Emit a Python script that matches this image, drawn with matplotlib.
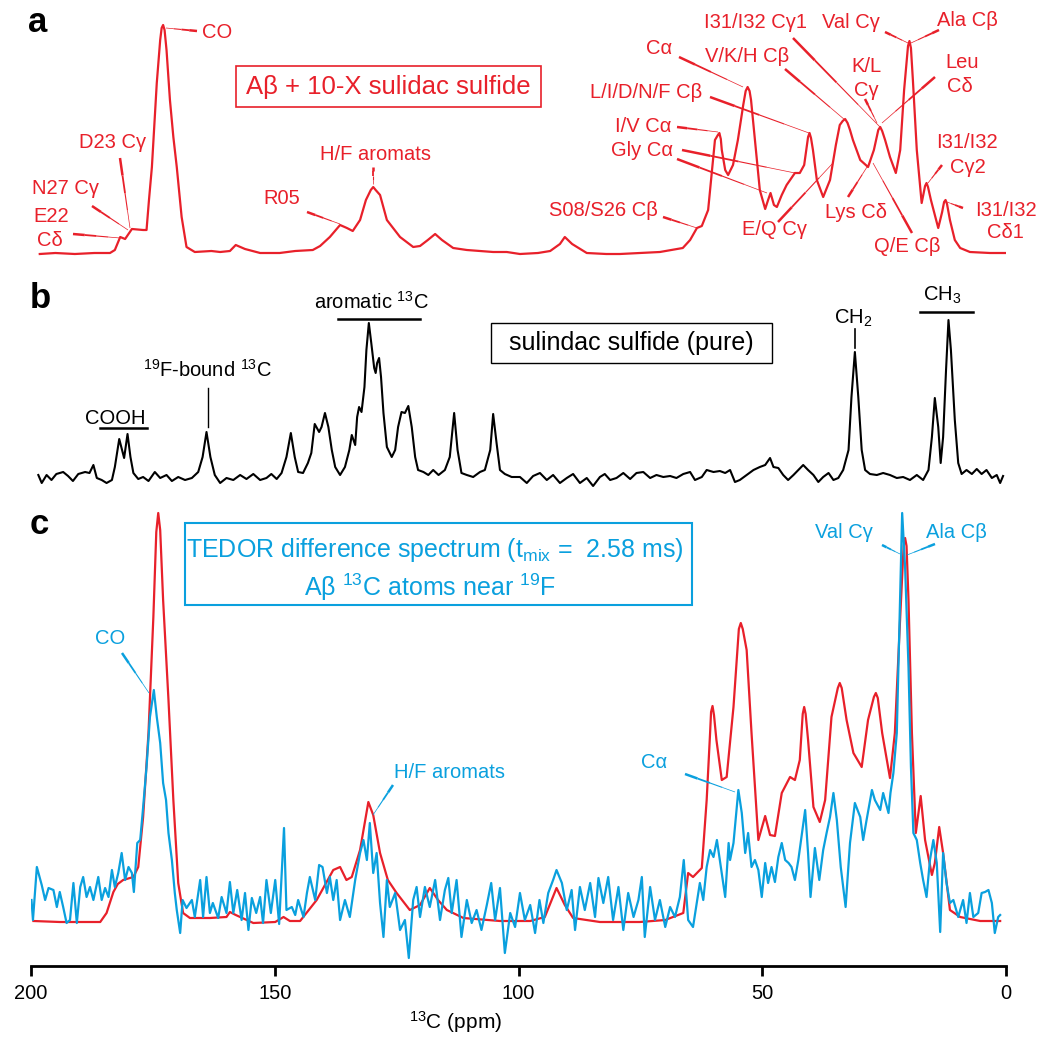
import matplotlib.pyplot as plt
from matplotlib.lines import Line2D
from matplotlib.patches import Rectangle

plt.rcParams['font.family'] = ['Liberation Sans', 'DejaVu Sans']
plt.rcParams['mathtext.fontset'] = 'custom'
plt.rcParams['mathtext.rm'] = 'Liberation Sans'
plt.rcParams['mathtext.it'] = 'Liberation Sans:italic'
plt.rcParams['mathtext.bf'] = 'Liberation Sans:bold'

RED = '#e8202a'
BLUE = '#0aa0de'

# (a) Abeta fibrils + 10x sulindac sulfide, 13C CP spectrum
a_ppm = [198.2, 195.0, 191.0, 187.0, 183.8, 182.8, 181.7, 180.7, 179.3, 177.0,
         176.3, 175.8, 175.2, 174.2, 173.5, 173.2, 172.9, 172.6, 172.2, 171.5,
         170.8, 170.1, 169.1, 168.1, 166.4, 163.0, 161.2, 159.2, 158.0, 156.1,
         153.0, 149.0, 145.8, 142.2, 140.7, 138.7, 136.6, 135.2, 134.0, 132.5,
         131.3, 130.3, 129.8, 129.3, 128.4, 127.0, 124.3, 121.6, 120.2, 118.6,
         117.1, 115.7, 113.4, 110.6, 105.2, 102.4, 99.7, 96.0, 93.5, 91.5,
         90.5, 89.0, 86.0, 82.0, 79.2, 75.0, 71.0, 66.3, 64.8, 63.4,
         62.4, 61.1, 60.5, 59.7, 59.1, 58.8, 58.5, 58.3, 57.6, 57.0,
         56.0, 55.0, 53.9, 53.4, 53.0, 52.6, 52.3, 51.3, 50.5, 49.4,
         48.8, 48.3, 47.6, 47.0, 46.0, 45.0, 43.3, 42.3, 41.4, 40.6,
         40.3, 40.0, 39.6, 38.8, 37.5, 36.1, 34.9, 34.1, 33.5, 33.0,
         32.5, 32.0, 31.4, 29.9, 28.3, 27.1, 26.2, 25.8, 25.4, 24.8,
         23.8, 22.6, 21.7, 20.9, 20.1, 19.8, 19.5, 19.1, 18.3, 17.3,
         16.6, 16.3, 16.0, 15.4, 13.9, 13.1, 12.7, 12.4, 12.1, 11.5,
         10.5, 9.4, 7.4, 3.3, 0.0]
a_int = [0, 1, 0, 1, 1, 4, 17, 15, 25, 24,
         24, 54, 87, 171, 214, 226, 229, 224, 204, 154,
         117, 87, 37, 7, 2, 3, 2, 3, 9, 5,
         1, 1, 3, 4, 8, 17, 29, 26, 23, 34,
         54, 64, 67, 64, 59, 34, 17, 7, 8, 14,
         20, 14, 6, 4, 2, 2, 0, 1, 3, 10,
         17, 10, 1, 0, 0, 1, 2, 6, 14, 26,
         28, 44, 74, 114, 119, 121, 115, 104, 84, 79,
         89, 114, 149, 163, 167, 163, 154, 104, 64, 45,
         54, 61, 49, 47, 59, 69, 81, 81, 89, 117,
         121, 116, 104, 74, 57, 74, 109, 129, 133, 135,
         131, 124, 114, 94, 87, 104, 124, 127, 123, 114,
         97, 81, 104, 164, 208, 213, 206, 174, 104, 51,
         68, 71, 67, 54, 26, 42, 52, 54, 50, 34,
         14, 6, 2, 1, 1]

# (b) pure sulindac sulfide
b_ppm = [198.5, 197.8, 196.8, 195.8, 194.8, 193.4, 192.4, 191.4, 190.3, 188.9,
         188.0, 187.2, 186.5, 185.5, 184.5, 183.4, 182.8, 181.9, 180.9, 180.2,
         179.6, 179.0, 178.0, 177.0, 175.9, 174.6, 173.5, 172.2, 171.1, 169.8,
         168.4, 167.0, 165.7, 164.8, 164.0, 163.2, 162.3, 161.2, 159.9, 158.5,
         157.1, 155.8, 154.4, 153.0, 151.7, 150.7, 149.6, 148.6, 147.6, 146.7,
         145.9, 145.2, 144.2, 143.2, 142.5, 141.8, 140.9, 140.4, 139.7, 139.0,
         138.3, 137.6, 136.6, 135.6, 134.7, 134.2, 133.5, 133.1, 132.7, 132.2,
         131.6, 131.2, 130.7, 130.2, 129.6, 129.3, 129.0, 128.6, 128.2, 127.7,
         127.0, 126.0, 125.3, 124.7, 124.0, 123.3, 122.6, 121.9, 121.2, 120.6,
         119.5, 118.5, 117.5, 116.4, 115.1, 114.1, 113.2, 112.5, 111.7, 110.6,
         109.3, 107.9, 106.9, 105.8, 105.2, 104.5, 103.8, 102.8, 101.4, 99.7,
         98.3, 97.0, 95.6, 94.2, 92.9, 91.5, 90.1, 88.8, 87.4, 86.0,
         84.7, 83.3, 82.3, 81.2, 79.9, 78.5, 77.1, 75.8, 74.4, 73.0,
         71.7, 70.3, 68.9, 67.6, 66.2, 64.8, 63.8, 62.4, 61.4, 60.0,
         58.7, 57.6, 56.6, 55.6, 54.6, 53.2, 51.8, 50.5, 49.4, 48.4,
         47.7, 46.7, 45.7, 44.7, 43.6, 42.6, 41.6, 40.6, 39.5, 38.5,
         37.5, 36.4, 35.4, 34.4, 33.4, 32.3, 31.7, 31.0, 30.3, 29.6,
         28.9, 27.9, 26.5, 25.2, 23.8, 22.4, 21.1, 19.7, 18.3, 17.0,
         15.9, 15.2, 14.6, 13.9, 13.4, 12.9, 12.3, 11.8, 11.3, 11.0,
         10.5, 9.8, 9.1, 8.1, 7.0, 6.0, 5.0, 4.0, 2.9, 1.9,
         1.2, 0.6]
b_int = [5, -3, 5, 0, 6, 8, 4, -1, 6, 8,
         7, 15, 2, 0, -3, 0, 13, 41, 22, 46,
         23, 7, 1, 3, -1, 8, 2, 5, -1, 3,
         0, 2, 8, 23, 48, 23, 5, -3, 2, 0,
         5, 1, 6, 0, 2, 6, 1, 7, 23, 47,
         23, 8, 7, 17, 27, 56, 48, 53, 67, 53,
         30, 13, 5, 13, 30, 45, 35, 63, 73, 68,
         93, 130, 157, 137, 112, 107, 117, 122, 103, 67,
         33, 23, 30, 53, 68, 67, 74, 53, 23, 10,
         8, 5, 10, 5, 10, 23, 67, 30, 7, 5,
         3, 8, 10, 30, 66, 37, 10, 6, 3, 3,
         -3, 4, 7, 0, 5, -3, 2, 6, -3, 2,
         -6, 3, 6, 0, 2, 7, 1, 7, 8, 2,
         5, 3, 4, 2, 6, 8, 0, 3, 10, 8,
         9, 7, 10, -2, 0, 5, 10, 13, 15, 22,
         13, 12, 5, 0, 5, 10, 15, 10, 5, -2,
         3, 7, 0, 2, 10, 30, 83, 128, 83, 30,
         10, 6, 5, 7, 5, 2, 3, 0, 5, 0,
         10, 43, 82, 53, 17, 43, 110, 160, 130, 103,
         60, 17, 6, 10, 6, 11, 6, 10, 2, 5,
         -3, 4]

# (c) reference spectrum (red) and TEDOR difference spectrum (blue)
c_ref_ppm = [199.5, 194.1, 185.8, 184.5, 183.1, 182.2, 181.1, 179.0, 178.0, 177.0,
             175.9, 174.9, 174.3, 173.9, 173.5, 172.9, 171.8, 170.8, 169.8, 168.8,
             167.4, 163.3, 159.9, 159.2, 158.0, 154.4, 149.9, 148.2, 146.9, 144.8,
             141.4, 138.0, 136.6, 135.3, 134.2, 132.5, 130.8, 129.8, 128.4, 126.8,
             125.0, 122.3, 120.2, 118.2, 116.5, 114.7, 111.3, 103.8, 97.6, 94.6,
             92.2, 90.5, 88.8, 83.3, 75.1, 69.9, 66.2, 65.2, 64.2, 62.4,
             61.4, 60.7, 60.5, 60.2, 59.9, 59.4, 58.3, 57.3, 55.9, 54.8,
             54.4, 54.0, 53.2, 52.2, 50.8, 49.4, 48.4, 47.4, 46.0, 44.3,
             43.3, 42.3, 41.7, 41.4, 41.1, 40.6, 39.5, 38.2, 37.1, 35.8,
             34.5, 34.1, 33.7, 32.7, 31.3, 29.6, 28.3, 27.1, 26.7, 26.3,
             25.4, 23.8, 22.8, 21.7, 21.0, 20.7, 20.4, 20.0, 19.3, 18.5,
             17.5, 16.6, 15.2, 14.6, 13.7, 12.9, 11.5, 9.4, 5.3, 1.2]
c_ref_int = [1, 0, 0, 9, 30, 38, 42, 45, 55, 105,
             189, 305, 390, 409, 392, 322, 222, 122, 39, 9,
             4, 4, 5, 10, 7, -1, 0, 5, 1, 1,
             22, 52, 55, 42, 45, 72, 120, 107, 69, 42,
             29, 12, 17, 34, 22, 12, 4, 1, 1, 5,
             34, 17, 4, 0, 0, 2, 9, 49, 45, 54,
             122, 189, 210, 216, 207, 182, 142, 145, 215, 293,
             299, 293, 272, 189, 82, 106, 87, 86, 129, 145,
             142, 162, 208, 215, 208, 182, 115, 100, 122, 205,
             234, 239, 234, 202, 169, 155, 202, 225, 229, 224,
             189, 144, 189, 305, 376, 384, 376, 322, 189, 89,
             126, 82, 47, 59, 95, 69, 12, 5, 1, 1]

c_tedor_ppm = [199.9, 199.6, 198.8, 197.8, 197.1, 196.4, 195.4, 194.7, 194.1, 193.4,
               192.7, 192.0, 191.3, 190.6, 189.9, 189.3, 188.6, 187.9, 187.2, 186.2,
               185.5, 184.8, 184.1, 183.4, 182.8, 182.1, 181.4, 180.7, 180.0, 179.3,
               178.9, 178.2, 177.6, 177.1, 176.3, 175.6, 174.8, 174.2, 173.5, 172.9,
               172.3, 171.8, 171.1, 170.5, 170.1, 169.4, 168.9, 168.1, 167.0, 166.4,
               165.3, 164.7, 164.0, 163.3, 162.7, 161.6, 160.9, 159.9, 159.2, 158.5,
               157.7, 156.8, 156.1, 155.4, 154.7, 153.8, 153.0, 152.4, 151.7, 150.8,
               149.9, 149.1, 148.1, 147.6, 146.5, 145.8, 145.2, 144.1, 143.4, 142.8,
               141.7, 140.9, 140.2, 139.3, 138.7, 138.0, 137.3, 136.6, 135.6, 134.6,
               133.5, 132.5, 131.8, 131.1, 130.5, 129.8, 129.1, 128.4, 127.7, 127.0,
               126.4, 125.3, 124.3, 123.3, 122.5, 121.6, 120.9, 120.2, 119.2, 118.2,
               117.1, 116.1, 115.1, 114.4, 113.7, 112.7, 111.7, 110.6, 109.6, 108.6,
               107.6, 106.5, 105.6, 104.8, 103.8, 102.8, 101.7, 100.7, 99.7, 98.7,
               97.6, 96.6, 95.7, 94.9, 93.9, 92.9, 92.2, 91.1, 90.1, 89.1,
               88.4, 87.4, 86.4, 85.3, 84.3, 83.6, 82.6, 81.6, 80.6, 79.5,
               78.5, 77.5, 76.4, 75.4, 74.7, 74.1, 73.0, 72.0, 71.0, 69.9,
               68.9, 67.9, 66.9, 66.1, 65.2, 64.2, 62.8, 62.1, 61.4, 60.7,
               60.0, 59.3, 58.7, 57.6, 56.9, 56.6, 55.9, 54.9, 54.2, 53.5,
               52.9, 52.2, 51.5, 50.8, 50.1, 49.4, 48.8, 48.1, 47.4, 46.7,
               46.0, 45.3, 44.6, 44.0, 43.3, 42.6, 41.2, 40.6, 40.1, 39.2,
               38.3, 37.5, 36.8, 36.1, 35.4, 34.7, 33.9, 32.9, 32.0, 31.0,
               29.9, 29.3, 28.6, 27.5, 26.9, 25.8, 25.2, 24.1, 23.7, 23.1,
               22.4, 21.9, 21.3, 20.7, 20.0, 19.5, 19.0, 18.3, 17.6, 17.0,
               16.3, 15.6, 14.9, 14.2, 13.5, 12.9, 12.2, 11.5, 10.8, 9.8,
               8.8, 8.1, 7.4, 6.7, 5.7, 5.0, 4.3, 3.6, 2.9, 2.3,
               1.6, 1.2]
c_tedor_int = [22, 2, 55, 37, 22, 34, 32, 15, 30, 15,
               -1, 2, 39, -1, 35, 45, 25, 35, 22, 45,
               22, 34, 25, 52, 35, 49, 69, 42, 55, 49,
               30, 79, 82, 109, 155, 205, 232, 205, 179, 139,
               122, 89, 62, 29, 12, -11, 22, 14, 22, 5,
               42, 5, 45, 9, 19, 4, 25, 9, 40, 9,
               32, 2, 29, -8, 24, 9, 25, -1, 42, 9,
               42, -2, 94, 12, 15, 7, 22, 5, 29, 45,
               22, 57, 55, 29, 45, 22, 42, 2, 22, 5,
               42, 69, 82, 62, 99, 49, 69, 19, -15, 42,
               15, 29, -8, 2, -36, 22, 35, 5, 35, 15,
               42, 2, 32, 44, 9, 42, -15, 22, -1, 12,
               -8, 17, 39, 2, 34, -31, 9, -5, 29, 2,
               17, -11, 22, -1, 29, 42, 52, 39, 12, 32,
               -8, 35, 12, 39, 5, 44, 19, 45, 2, 35,
               -8, 29, 5, 22, 45, -15, 35, 2, 22, -5,
               15, 5, 25, 62, 2, -5, 39, 22, 55, 72,
               65, 82, 62, 25, 79, 62, 79, 132, 109, 69,
               89, 55, 62, 52, 25, 59, 39, 55, 40, 65,
               79, 62, 59, 55, 42, 62, 112, 69, 25, 74,
               42, 72, 89, 105, 129, 102, 55, 15, 79, 119,
               105, 82, 102, 132, 122, 112, 129, 109, 129, 149,
               189, 289, 409, 355, 255, 155, 89, 82, 59, 42,
               25, 62, 82, 59, -10, 69, 39, 19, 22, 5,
               22, -1, 29, 5, 9, 29, 30, 32, 19, -11,
               5, 7]

W, H = 1042, 1037
fig = plt.figure(figsize=(W / 100, H / 100), dpi=100)


def panel(top, bottom, base):
    # x spans 200 -> 0 ppm across pixels 31 -> 1006
    ax = fig.add_axes([31 / W, 1 - bottom / H, 975 / W, (bottom - top) / H])
    ax.set_xlim(200, 0)
    ax.set_ylim(base - bottom, base - top)
    ax.patch.set_alpha(0)
    return ax


def text(x, y, s, color, size=14.5, **kw):
    fig.text(x / W, 1 - y / H, s, color=color, fontsize=size,
             ha='center', va='center', **kw)


def leader(x1, y1, x2, y2, color):
    # tapered pointer: thick at the label, thin at the peak
    widths = [1.8, 1.3, 0.8, 0.5]
    n = len(widths)
    for i, lw in enumerate(widths):
        xa = x1 + (x2 - x1) * i / n
        xb = x1 + (x2 - x1) * (i + 1) / n
        ya = y1 + (y2 - y1) * i / n
        yb = y1 + (y2 - y1) * (i + 1) / n
        fig.add_artist(Line2D([xa / W, xb / W], [1 - ya / H, 1 - yb / H],
                              transform=fig.transFigure, color=color, lw=lw,
                              solid_capstyle='butt'))


def rule(x1, y1, x2, y2, color='black', lw=1.8):
    fig.add_artist(Line2D([x1 / W, x2 / W], [1 - y1 / H, 1 - y2 / H],
                          transform=fig.transFigure, color=color, lw=lw))


def box(l, t, r, b, color, lw=1.2):
    fig.add_artist(Rectangle((l / W, 1 - b / H), (r - l) / W, (b - t) / H,
                             transform=fig.transFigure, fill=False,
                             ec=color, lw=lw))


# ---- panel a ----
ax_a = panel(0, 270, 254)
ax_a.axis('off')
ax_a.plot(a_ppm, a_int, color=RED, lw=1.6)

text(38, 22, 'a', 'black', size=25, fontweight='bold')
box(236, 66, 541, 107, RED)
text(388, 87, 'Aβ + 10-X sulidac sulfide', RED, size=18.5)

a_labels = [
    ('CO', 217, 33), ('D23 Cγ', 113, 143), ('N27 Cγ', 65, 188),
    ('E22', 51, 216), ('Cδ', 50, 240), ('R05', 282, 199),
    ('H/F aromats', 376, 154), ('I31/I32 Cγ1', 756, 23), ('Val Cγ', 851, 23),
    ('Ala Cβ', 967, 21), ('Cα', 659, 48), ('V/K/H Cβ', 747, 57),
    ('K/L', 866, 67), ('Cγ', 866, 91), ('Leu', 962, 63), ('Cδ', 960, 87),
    ('L/I/D/N/F Cβ', 646, 93), ('I/V Cα', 643, 126), ('Gly Cα', 642, 150),
    ('S08/S26 Cβ', 603, 210), ('E/Q Cγ', 775, 230), ('Lys Cδ', 856, 212),
    ('Q/E Cβ', 907, 247), ('I31/I32', 967, 143), ('Cγ2', 968, 167),
    ('I31/I32', 1006, 210), ('Cδ1', 1005, 233),
]
for s, x, y in a_labels:
    text(x, y, s, RED)

a_leaders = [
    (197, 31, 166, 28), (120, 158, 130, 228), (92, 206, 128, 230),
    (73, 234, 120, 238), (307, 212, 340, 224), (373, 167, 373, 184),
    (793, 38, 880, 127), (885, 32, 908, 43), (939, 30, 911, 43),
    (679, 57, 743, 87), (785, 69, 845, 120), (865, 99, 877, 123),
    (935, 77, 882, 123), (710, 97, 809, 133), (677, 127, 718, 132),
    (682, 150, 795, 173), (677, 159, 767, 193), (663, 217, 697, 228),
    (778, 222, 833, 163), (848, 197, 867, 167), (912, 233, 873, 163),
    (942, 165, 928, 183), (963, 208, 947, 202),
]
for seg in a_leaders:
    leader(*seg, RED)

# ---- panel b ----
ax_b = panel(280, 500, 480)
ax_b.axis('off')
ax_b.plot(b_ppm, b_int, color='black', lw=1.5)

text(40, 298, 'b', 'black', size=25, fontweight='bold')
box(491, 323, 772, 363, 'black', lw=1.0)
text(631, 343, 'sulindac sulfide (pure)', 'black', size=18)
text(115, 418, 'COOH', 'black')
rule(100, 428, 147, 428)
text(208, 370, r'$^{\rm 19}$F-bound $^{\rm 13}$C', 'black')
rule(208, 388, 208, 427, lw=1.0)
text(371, 302, r'aromatic $^{\rm 13}$C', 'black')
rule(338, 319, 420, 319)
text(853, 318, r'CH$_{\rm 2}$', 'black')
rule(855, 329, 855, 348, lw=1.2)
text(942, 295, r'CH$_{\rm 3}$', 'black')
rule(920, 312, 973, 312)

# ---- panel c ----
ax_c = panel(500, 966, 922)
ax_c.plot(c_ref_ppm, c_ref_int, color=RED, lw=1.6)
ax_c.plot(c_tedor_ppm, c_tedor_int, color=BLUE, lw=1.6)
for side in ('left', 'right', 'top'):
    ax_c.spines[side].set_visible(False)
ax_c.spines['bottom'].set_linewidth(2)
ax_c.set_yticks([])
ax_c.set_xticks([200, 150, 100, 50, 0])
ax_c.tick_params(axis='x', length=7, width=2, labelsize=14.5, pad=6)

text(39, 525, 'c', 'black', size=25, fontweight='bold')
text(456, 1022, r'$^{\rm 13}$C (ppm)', 'black', size=15)

box(185, 523, 692, 605, BLUE, lw=1.5)
text(435, 550, r'TEDOR difference spectrum (t$_{\rm mix}$ =  2.58 ms)', BLUE, size=18)
text(430, 587, r'Aβ $^{\rm 13}$C atoms near $^{\rm 19}$F', BLUE, size=18)

c_labels = [
    ('CO', 110, 638), ('H/F aromats', 449, 772), ('Cα', 654, 763),
    ('Val Cγ', 844, 533), ('Ala Cβ', 956, 533),
]
for s, x, y in c_labels:
    text(x, y, s, BLUE)

c_leaders = [
    (122, 653, 149, 693), (393, 785, 373, 815), (685, 774, 735, 792),
    (882, 545, 900, 554), (935, 544, 907, 555),
]
for seg in c_leaders:
    leader(*seg, BLUE)

fig.savefig('out.png', dpi=100)
